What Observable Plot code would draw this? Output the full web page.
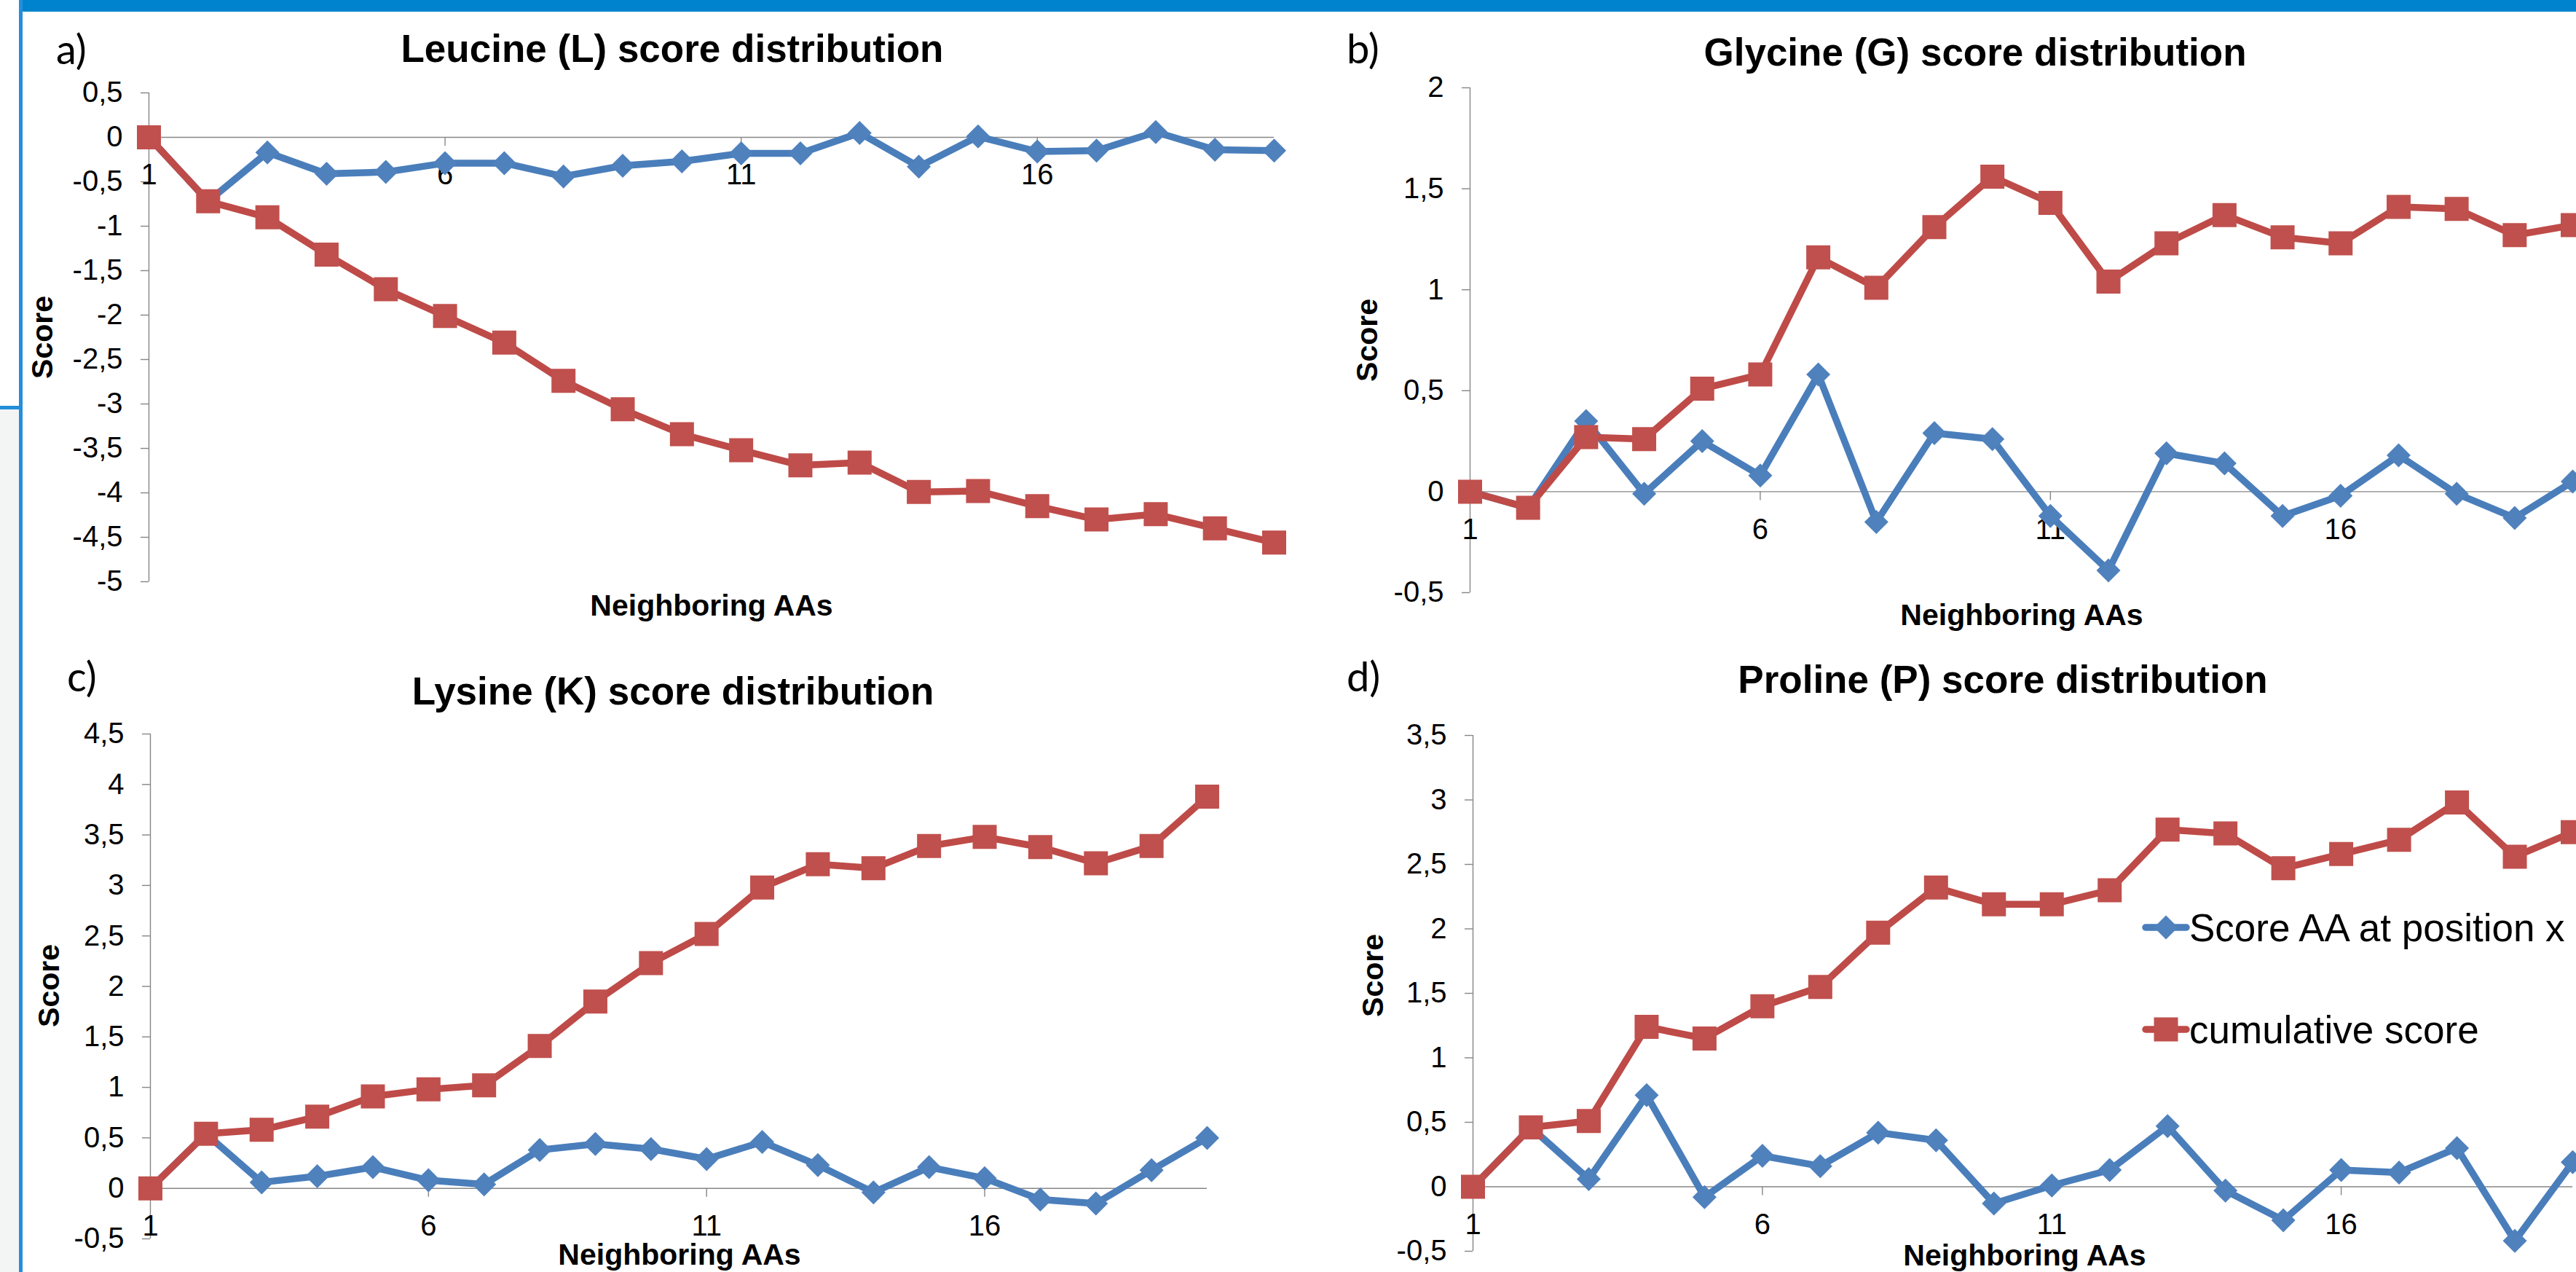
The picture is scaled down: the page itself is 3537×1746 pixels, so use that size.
<!DOCTYPE html>
<html>
<head>
<meta charset="utf-8">
<script src="https://cdn.jsdelivr.net/npm/d3@7"></script>
<script src="https://cdn.jsdelivr.net/npm/@observablehq/plot@0.6"></script>
<style>
html, body { margin: 0; padding: 0; background: #ffffff; }
#root { position: relative; width: 3537px; height: 1746px; overflow: hidden; background: #ffffff; }
#root > svg, #root > .deco { position: absolute; }
#root > svg { left: 0; top: 0; }
</style>
</head>
<body>
<div id="root"></div>
<script>
// ---------------- DATA ----------------
const positions = [1, 2, 3, 4, 5, 6, 7, 8, 9, 10, 11, 12, 13, 14, 15, 16, 17, 18, 19, 20];
const xTickLabels = [1, 6, 11, 16];
const seriesNames = ["Score AA at position x", "cumulative score"];
const xAxisTitle = "Neighboring AAs";
const yAxisTitle = "Score";

const leucineScore = [0, -0.72, -0.17, -0.41, -0.39, -0.29, -0.29, -0.44, -0.32, -0.27, -0.18, -0.18, 0.05, -0.33, 0.01, -0.16, -0.15, 0.06, -0.14, -0.15];
const leucineCumulative = [0, -0.72, -0.90, -1.32, -1.71, -2.01, -2.31, -2.74, -3.06, -3.34, -3.52, -3.69, -3.66, -3.99, -3.98, -4.15, -4.30, -4.24, -4.40, -4.56];
const leucineTicks = [0.5, 0, -0.5, -1, -1.5, -2, -2.5, -3, -3.5, -4, -4.5, -5];

const glycineScore = [0, -0.08, 0.35, -0.01, 0.25, 0.08, 0.58, -0.15, 0.29, 0.26, -0.12, -0.39, 0.19, 0.14, -0.12, -0.02, 0.18, -0.01, -0.13, 0.05];
const glycineCumulative = [0, -0.08, 0.27, 0.26, 0.51, 0.58, 1.16, 1.01, 1.31, 1.56, 1.43, 1.04, 1.23, 1.37, 1.26, 1.23, 1.41, 1.40, 1.27, 1.32];
const glycineTicks = [2, 1.5, 1, 0.5, 0, -0.5];

const lysineScore = [0, 0.54, 0.06, 0.12, 0.21, 0.08, 0.04, 0.38, 0.44, 0.39, 0.29, 0.46, 0.23, -0.04, 0.21, 0.10, -0.11, -0.15, 0.18, 0.50];
const lysineCumulative = [0, 0.54, 0.58, 0.71, 0.91, 0.98, 1.02, 1.41, 1.85, 2.23, 2.52, 2.98, 3.21, 3.17, 3.39, 3.48, 3.38, 3.22, 3.39, 3.88];
const lysineTicks = [4.5, 4, 3.5, 3, 2.5, 2, 1.5, 1, 0.5, 0, -0.5];

const prolineScore = [0, 0.46, 0.06, 0.71, -0.08, 0.24, 0.16, 0.42, 0.36, -0.13, 0.01, 0.13, 0.47, -0.03, -0.26, 0.13, 0.11, 0.30, -0.42, 0.19];
const prolineCumulative = [0, 0.46, 0.51, 1.24, 1.15, 1.40, 1.55, 1.97, 2.32, 2.19, 2.19, 2.30, 2.77, 2.74, 2.47, 2.58, 2.69, 2.98, 2.56, 2.75];
const prolineTicks = [3.5, 3, 2.5, 2, 1.5, 1, 0.5, 0, -0.5];

const panelLetters = ["a)", "b)", "c)", "d)"];
const panelTitles = ["Leucine (L) score distribution", "Glycine (G) score distribution", "Lysine (K) score distribution", "Proline (P) score distribution"];

// ---------------- STYLE / LAYOUT ----------------
const W = 3537, H = 1746;
const AXIS = "#868686";
const BLUE = "#4F81BD", BLUE_LINE = "#4A7EBB";
const RED = "#C0504D", RED_LINE = "#BE4B48";
const SANS = "'Liberation Sans', Arial, Helvetica, sans-serif";

const panels = [
  {score: leucineScore, cum: leucineCumulative, ticks: leucineTicks,
   frame: {x0: 204, x1: 1749, yTop: 127, yBottom: 798},
   letter: [77, 88], title: [923, 85], yLab: [57, 463], xLab: [977, 845]},
  {score: glycineScore, cum: glycineCumulative, ticks: glycineTicks,
   frame: {x0: 2018, x1: 3532, yTop: 120, yBottom: 813},
   letter: [1849, 87], title: [2712, 90], yLab: [1876, 467], xLab: [2776, 858]},
  {score: lysineScore, cum: lysineCumulative, ticks: lysineTicks,
   frame: {x0: 206, x1: 1657, yTop: 1007, yBottom: 1700},
   letter: [92, 949], title: [924, 967], yLab: [66, 1353], xLab: [933, 1736]},
  {score: prolineScore, cum: prolineCumulative, ticks: prolineTicks,
   frame: {x0: 2022, x1: 3532, yTop: 1009, yBottom: 1717},
   letter: [1849, 949], title: [2750, 951], yLab: [1884, 1339], xLab: [2780, 1737]}
];

const fmt = d => String(d).replace(".", ",");

const squareSym = {draw(ctx, size) {
  const h = Math.sqrt(size / Math.PI);
  ctx.moveTo(-h, -h); ctx.lineTo(h, -h); ctx.lineTo(h, h); ctx.lineTo(-h, h); ctx.closePath();
}};
const diamondSym = {draw(ctx, size) {
  const h = Math.sqrt(size / Math.PI);
  ctx.moveTo(0, -h); ctx.lineTo(h, 0); ctx.lineTo(0, h); ctx.lineTo(-h, 0); ctx.closePath();
}};

const root = document.getElementById("root");

// decorative frame (screenshot border)
function deco(style) {
  const d = document.createElement("div");
  d.className = "deco";
  Object.assign(d.style, style);
  root.appendChild(d);
}
deco({left: "0px", top: "562px", width: "26px", height: (H - 562) + "px", background: "#F3F5F5"});
deco({left: "26px", top: "0px", width: (W - 26) + "px", height: "16px", background: "#0083CE"});
deco({left: "26px", top: "0px", width: "5px", height: H + "px", background: "#238FDA"});
deco({left: "0px", top: "557px", width: "26px", height: "5px", background: "#238FDA"});

panels.forEach(p => {
  const rows = positions.map((x, i) => ({x, score: p.score[i], cum: p.cum[i]}));
  const yDomain = d3.extent(p.ticks);
  const f = p.frame;
  const chart = Plot.plot({
    width: W, height: H,
    marginLeft: f.x0, marginRight: W - f.x1, marginTop: f.yTop, marginBottom: H - f.yBottom,
    x: {type: "linear", domain: [positions[0], positions[positions.length - 1]], axis: null},
    y: {type: "linear", domain: yDomain},
    style: {background: "transparent", fontFamily: SANS, color: "black", overflow: "visible"},
    marks: [
      Plot.ruleY([0], {x1: positions[0], x2: positions[positions.length - 1], stroke: AXIS, strokeWidth: 1.4}),
      Plot.ruleX([positions[0]], {y1: yDomain[0], y2: yDomain[1], stroke: AXIS, strokeWidth: 1.4}),
      Plot.ruleX(xTickLabels.slice(1), {x: d => d, y1: 0, y2: 0, insetBottom: -12, stroke: AXIS, strokeWidth: 1.4}),
      Plot.axisY({ticks: p.ticks, tickSize: 11, tickPadding: 25, tickFormat: fmt, fontSize: 40,
                  stroke: AXIS, strokeWidth: 1.4, fill: "black", label: null}),
      Plot.text(xTickLabels, {x: d => d, y: 0, dy: 52, text: d => String(d), fontSize: 40, fill: "black"}),
      Plot.line(rows, {x: "x", y: "score", stroke: BLUE_LINE, strokeWidth: 9.5, strokeLinejoin: "round", strokeLinecap: "round"}),
      Plot.dot(rows, {x: "x", y: "score", symbol: diamondSym, r: 16.5, fill: BLUE, stroke: "none"}),
      Plot.line(rows, {x: "x", y: "cum", stroke: RED_LINE, strokeWidth: 9.5, strokeLinejoin: "round", strokeLinecap: "round"}),
      Plot.dot(rows, {x: "x", y: "cum", symbol: squareSym, r: 16.5, fill: RED, stroke: "none"})
    ]
  });
  root.appendChild(chart);
});

// text overlay: panel letters, titles, axis titles, legend
const ov = d3.select(root).append("svg")
  .attr("width", W).attr("height", H)
  .style("position", "absolute").style("left", "0px").style("top", "0px")
  .style("overflow", "visible");

panels.forEach((p, i) => {
  ov.append("text").attr("x", p.letter[0]).attr("y", p.letter[1])
    .attr("font-family", "Lato, 'Open Sans', sans-serif").attr("font-size", 56).attr("fill", "black")
    .text(panelLetters[i]);
  ov.append("text").attr("x", p.title[0]).attr("y", p.title[1])
    .attr("text-anchor", "middle").attr("font-family", SANS).attr("font-weight", "bold")
    .attr("font-size", 53).attr("fill", "black").text(panelTitles[i]);
  ov.append("text").attr("transform", `translate(${p.yLab[0]},${p.yLab[1]}) rotate(-90)`)
    .attr("text-anchor", "middle").attr("dy", "0.36em").attr("font-family", SANS).attr("font-weight", "bold")
    .attr("font-size", 41).attr("fill", "black").text(yAxisTitle);
  ov.append("text").attr("x", p.xLab[0]).attr("y", p.xLab[1])
    .attr("text-anchor", "middle").attr("font-family", SANS).attr("font-weight", "bold")
    .attr("font-size", 41).attr("fill", "black").text(xAxisTitle);
});

// legend (panel d)
const legendItems = [
  {name: seriesNames[0], color: BLUE, line: BLUE_LINE, cy: 1273, shape: "diamond"},
  {name: seriesNames[1], color: RED, line: RED_LINE, cy: 1413, shape: "square"}
];
legendItems.forEach(it => {
  ov.append("line").attr("x1", 2946).attr("x2", 3002).attr("y1", it.cy).attr("y2", it.cy)
    .attr("stroke", it.line).attr("stroke-width", 9.5).attr("stroke-linecap", "round");
  const cx = 2974, h = 16.5;
  const path = it.shape === "diamond"
    ? `M${cx},${it.cy - h}L${cx + h},${it.cy}L${cx},${it.cy + h}L${cx - h},${it.cy}Z`
    : `M${cx - h},${it.cy - h}L${cx + h},${it.cy - h}L${cx + h},${it.cy + h}L${cx - h},${it.cy + h}Z`;
  ov.append("path").attr("d", path).attr("fill", it.color);
  ov.append("text").attr("x", 3006).attr("y", it.cy + 19)
    .attr("font-family", SANS).attr("font-size", 53).attr("fill", "black").text(it.name);
});
</script>
</body>
</html>
